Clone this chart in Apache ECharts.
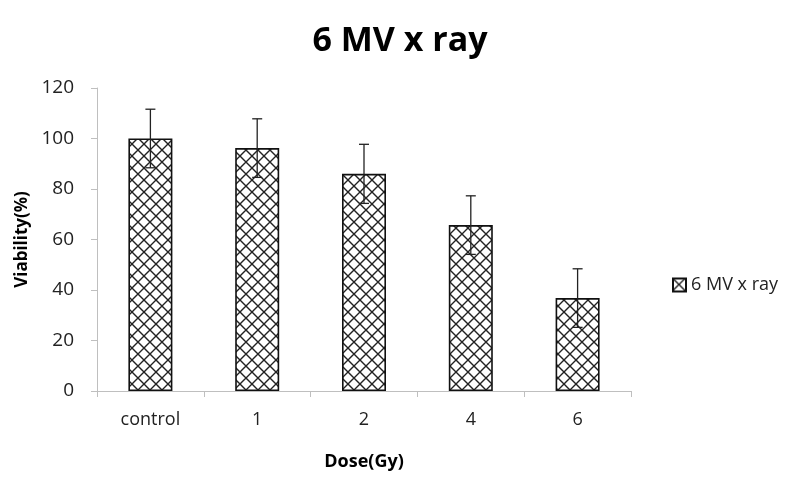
<!DOCTYPE html>
<html>
<head>
<meta charset="utf-8">
<script src="https://cdn.jsdelivr.net/npm/echarts@6/dist/echarts.min.js"></script>
<style>
  html, body { margin: 0; padding: 0; background: #fff; }
  #chart { width: 800px; height: 493px; }
</style>
</head>
<body>
<div id="chart"></div>
<script>
// data
var categories = ['control', '1', '2', '4', '6'];
var viability = [100, 96.2, 86, 65.7, 36.8];
var errors = [11.6, 11.6, 11.7, 11.6, 11.6];
var yTicks = [0, 20, 40, 60, 80, 100, 120];

// crosshatch fill like the excel pattern
function makeHatch(size) {
    var c = document.createElement('canvas');
    c.width = size; c.height = size;
    var ctx = c.getContext('2d');
    ctx.fillStyle = '#fff';
    ctx.fillRect(0, 0, size, size);
    ctx.strokeStyle = '#222';
    ctx.lineWidth = 1.4;
    ctx.beginPath();
    ctx.moveTo(0, 0); ctx.lineTo(size, size);
    ctx.moveTo(size, 0); ctx.lineTo(0, size);
    ctx.stroke();
    return c;
}
var hatch = { image: makeHatch(12), repeat: 'repeat' };

var errData = categories.map(function (c, i) {
    return [i, viability[i] - errors[i], viability[i] + errors[i]];
});

var myChart = echarts.init(document.getElementById('chart'));
myChart.setOption({
    animation: false,
    title: {
        text: '6 MV x ray',
        left: 'center',
        top: 19,
        textStyle: { fontFamily: 'Open Sans', fontWeight: 'bold', fontSize: 34, color: '#000' }
    },
    legend: {
        data: [{ name: '6 MV x ray', icon: 'rect' }],
        left: 667,
        top: 271,
        itemWidth: 13,
        itemHeight: 13,
        itemGap: 4,
        textStyle: { fontFamily: 'Open Sans', fontSize: 18, color: '#222' }
    },
    grid: { left: 97, right: 169, top: 88, bottom: 102 },
    xAxis: {
        type: 'category',
        data: categories,
        name: 'Dose(Gy)',
        nameLocation: 'middle',
        nameGap: 62,
        nameTextStyle: { fontFamily: 'Open Sans', fontWeight: 'bold', fontSize: 18, color: '#000' },
        axisLine: { lineStyle: { color: '#bfbfbf', width: 1 } },
        axisTick: { show: true, alignWithLabel: false, length: 6, lineStyle: { color: '#bfbfbf' } },
        axisLabel: { fontFamily: 'Open Sans', fontSize: 18, color: '#222', margin: 20 }
    },
    yAxis: {
        type: 'value',
        min: yTicks[0],
        max: yTicks[yTicks.length - 1],
        interval: 20,
        name: 'Viability(%)',
        nameLocation: 'middle',
        nameGap: 64,
        nameTextStyle: { fontFamily: 'Open Sans', fontWeight: 'bold', fontSize: 17, color: '#000' },
        axisLine: { show: true, lineStyle: { color: '#bfbfbf', width: 1 } },
        axisTick: { show: true, inside: false, length: 6, lineStyle: { color: '#bfbfbf' } },
        splitLine: { show: false },
        axisLabel: { fontFamily: 'Open Sans', fontSize: 19, color: '#222', margin: 23 }
    },
    series: [
        {
            name: '6 MV x ray',
            type: 'bar',
            data: viability,
            barWidth: 44,
            itemStyle: { color: hatch, borderColor: '#111', borderWidth: 1.6 }
        },
        {
            name: 'err',
            type: 'custom',
            data: errData,
            z: 10,
            renderItem: function (params, api) {
                var x = api.value(0);
                var lo = api.coord([x, api.value(1)]);
                var hi = api.coord([x, api.value(2)]);
                var cap = 5;
                var st = { stroke: '#222', lineWidth: 1.3 };
                return {
                    type: 'group',
                    children: [
                        { type: 'line', shape: { x1: lo[0], y1: lo[1], x2: hi[0], y2: hi[1] }, style: st },
                        { type: 'line', shape: { x1: hi[0] - cap, y1: hi[1], x2: hi[0] + cap, y2: hi[1] }, style: st },
                        { type: 'line', shape: { x1: lo[0] - cap, y1: lo[1], x2: lo[0] + cap, y2: lo[1] }, style: st }
                    ]
                };
            }
        }
    ]
});
</script>
</body>
</html>
